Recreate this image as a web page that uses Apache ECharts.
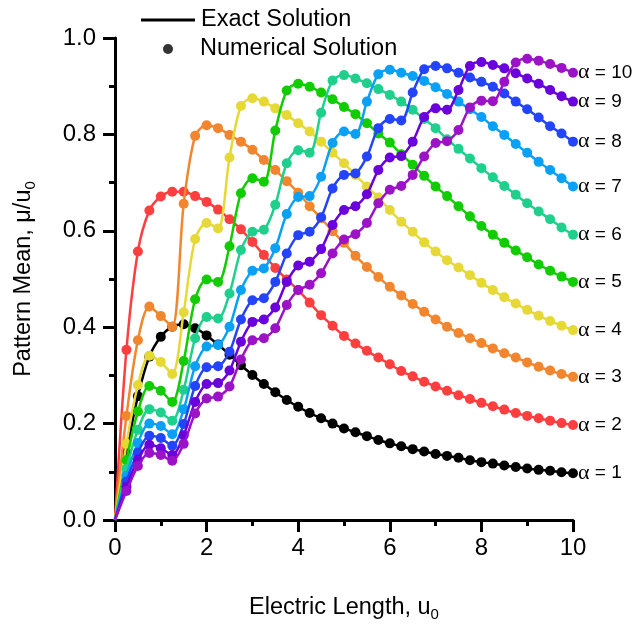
<!DOCTYPE html>
<html>
<head>
<meta charset="utf-8">
<script src="https://cdn.jsdelivr.net/npm/echarts@6/dist/echarts.min.js"></script>
<style>
html,body{margin:0;padding:0;background:#fff;}
#chart{width:636px;height:628px;}
</style>
</head>
<body>
<div id="chart"></div>
<script>
// Electric length u0 (x positions of the numerical points, every 0.25)
const uValues = [0,0.25,0.5,0.75,1,1.25,1.5,1.75,2,2.25,2.5,2.75,3,3.25,3.5,3.75,4,4.25,4.5,4.75,5,5.25,5.5,5.75,6,6.25,6.5,6.75,7,7.25,7.5,7.75,8,8.25,8.5,8.75,9,9.25,9.5,9.75,10];

// Pattern mean mu/u0 for each alpha
const alpha1 = [0,0.140,0.257,0.339,0.380,0.401,0.406,0.398,0.383,0.364,0.343,0.321,0.301,0.282,0.265,0.249,0.235,0.222,0.211,0.200,0.190,0.182,0.174,0.166,0.159,0.153,0.147,0.142,0.137,0.133,0.129,0.124,0.120,0.117,0.113,0.110,0.107,0.104,0.102,0.099,0.097];
const alpha2 = [0,0.353,0.557,0.642,0.671,0.681,0.681,0.672,0.660,0.644,0.624,0.603,0.577,0.550,0.523,0.499,0.477,0.451,0.425,0.403,0.382,0.366,0.351,0.337,0.323,0.309,0.298,0.287,0.277,0.268,0.259,0.251,0.243,0.236,0.229,0.222,0.216,0.211,0.206,0.201,0.197];
const alpha3 = [0,0.216,0.373,0.443,0.423,0.401,0.656,0.797,0.819,0.813,0.799,0.785,0.768,0.747,0.726,0.703,0.679,0.651,0.626,0.599,0.575,0.548,0.525,0.504,0.484,0.466,0.448,0.432,0.416,0.401,0.388,0.377,0.367,0.356,0.346,0.337,0.327,0.318,0.310,0.303,0.297];
const alpha4 = [0,0.158,0.280,0.341,0.328,0.303,0.431,0.583,0.616,0.605,0.752,0.859,0.875,0.868,0.854,0.840,0.823,0.806,0.785,0.762,0.740,0.716,0.692,0.669,0.643,0.619,0.598,0.576,0.557,0.539,0.524,0.508,0.492,0.477,0.462,0.449,0.436,0.424,0.413,0.403,0.394];
const alpha5 = [0,0.124,0.225,0.278,0.268,0.245,0.330,0.458,0.499,0.494,0.568,0.678,0.709,0.702,0.808,0.891,0.905,0.899,0.887,0.873,0.857,0.842,0.823,0.802,0.783,0.759,0.737,0.714,0.692,0.672,0.651,0.630,0.610,0.592,0.575,0.559,0.545,0.530,0.517,0.505,0.494];
const alpha6 = [0,0.106,0.187,0.230,0.223,0.206,0.270,0.377,0.421,0.418,0.470,0.560,0.598,0.602,0.654,0.740,0.767,0.762,0.845,0.912,0.923,0.916,0.906,0.894,0.882,0.868,0.851,0.832,0.813,0.790,0.770,0.750,0.730,0.711,0.693,0.675,0.657,0.640,0.624,0.607,0.592];
const alpha7 = [0,0.092,0.160,0.200,0.195,0.178,0.230,0.319,0.360,0.363,0.401,0.477,0.517,0.522,0.564,0.635,0.670,0.672,0.712,0.782,0.806,0.801,0.868,0.925,0.934,0.928,0.921,0.911,0.898,0.884,0.868,0.852,0.836,0.817,0.799,0.780,0.762,0.743,0.726,0.709,0.692];
const alpha8 = [0,0.080,0.140,0.175,0.170,0.154,0.199,0.278,0.317,0.319,0.349,0.416,0.456,0.460,0.494,0.553,0.591,0.598,0.628,0.688,0.716,0.719,0.754,0.813,0.832,0.829,0.887,0.935,0.942,0.937,0.928,0.918,0.909,0.899,0.885,0.868,0.852,0.835,0.817,0.802,0.785];
const alpha9 = [0,0.069,0.125,0.156,0.149,0.135,0.176,0.245,0.282,0.284,0.310,0.370,0.411,0.416,0.441,0.494,0.528,0.536,0.562,0.612,0.643,0.651,0.676,0.726,0.752,0.755,0.785,0.836,0.854,0.851,0.892,0.942,0.950,0.944,0.937,0.927,0.916,0.905,0.892,0.879,0.868];
const alpha10 = [0,0.060,0.112,0.139,0.135,0.123,0.158,0.221,0.252,0.256,0.277,0.333,0.373,0.377,0.398,0.446,0.477,0.488,0.512,0.553,0.582,0.593,0.616,0.657,0.685,0.693,0.716,0.754,0.782,0.786,0.809,0.856,0.870,0.869,0.909,0.949,0.957,0.953,0.946,0.938,0.928];

const curves = [alpha1,alpha2,alpha3,alpha4,alpha5,alpha6,alpha7,alpha8,alpha9,alpha10];
const alphaLabels = ['1','2','3','4','5','6','7','8','9','10'];
const curveColors = ['#000000','#ff3f3f','#f2862e','#e6d936','#11cc00','#1fd08c','#0aa0f6','#2444fb','#6a00dc','#9c12c6'];

const xTicks = [0,2,4,6,8,10];
const yTicks = [0,0.2,0.4,0.6,0.8,1.0];

const SANS = 'Liberation Sans, Arial, sans-serif';
const SERIF = 'Liberation Serif, Times New Roman, serif';

const chart = echarts.init(document.getElementById('chart'), null, {renderer:'canvas'});

const series = [];
curves.forEach((vals, k) => {
  series.push({
    type: 'line',
    name: 'α = ' + alphaLabels[k],
    xAxisIndex: 0,
    yAxisIndex: 0,
    data: uValues.map((u, i) => i === 0 ? {value:[u, vals[i]], symbol:'none'} : [u, vals[i]]),
    smooth: 0.3,
    symbol: 'circle',
    symbolSize: 10,
    showSymbol: true,
    showAllSymbol: true,
    color: curveColors[k],
    lineStyle: {width: 2.5, color: curveColors[k]},
    itemStyle: {color: curveColors[k]},
    emphasis: {disabled: true},
    silent: true,
    endLabel: {
      show: true,
      formatter: '{a|α} = ' + alphaLabels[k],
      color: '#000',
      fontSize: 19,
      fontFamily: SANS,
      distance: 5,
      rich: {a: {fontFamily: SERIF, fontSize: 22, color: '#000'}}
    },
    z: 2 + k
  });
});
series.push({name:'Exact Solution', type:'line', data:[], color:'#000', lineStyle:{color:'#000', width:2.5}, itemStyle:{color:'#000'}});
series.push({name:'Numerical Solution', type:'scatter', data:[], color:'#000', itemStyle:{color:'#000'}});

const nameStyle = {fontSize: 23.5, color: '#000', fontFamily: SANS, lineHeight: 28,
  rich: {sub: {fontSize: 15, lineHeight: 12, verticalAlign: 'bottom', color: '#000', fontFamily: SANS}}};

const option = {
  animation: false,
  backgroundColor: '#ffffff',
  grid: {left: 115, right: 63, top: 38, bottom: 108, containLabel: false},
  legend: [
    {data: ['Exact Solution'], left: 141, top: 8, padding: 0, icon: 'rect', itemWidth: 54, itemHeight: 3,
     selectedMode: false, textStyle: {fontSize: 23.5, color: '#000', fontFamily: SANS, padding:[0,0,0,1]}},
    {data: ['Numerical Solution'], left: 163, top: 37, padding: 0, icon: 'circle', itemWidth: 54, itemHeight: 10,
     selectedMode: false, textStyle: {fontSize: 23.5, color: '#000', fontFamily: SANS}}
  ],
  xAxis: [
    {
      type: 'value',
      min: xTicks[0], max: xTicks[xTicks.length-1], interval: xTicks[1]-xTicks[0],
      axisLine: {show: true, onZero: false, lineStyle: {color: '#000', width: 3}},
      axisTick: {show: true, inside: false, length: 12, lineStyle: {color: '#000', width: 3}},
      minorTick: {show: false},
      splitLine: {show: false},
      axisLabel: {fontSize: 24, color: '#000', fontFamily: SANS, margin: 16},
      name: 'Electric Length, u{sub|0}',
      nameLocation: 'middle',
      nameGap: 74,
      nameTextStyle: nameStyle
    },
    {
      // minor ticks of the x axis (every 1 unit), pointing outward
      type: 'value',
      gridIndex: 0,
      position: 'bottom',
      min: 0, max: 10, interval: 1,
      axisLine: {show: false, onZero: false},
      axisTick: {show: true, inside: false, length: 6, lineStyle: {color: '#000', width: 3}},
      axisLabel: {show: false},
      splitLine: {show: false}
    }
  ],
  yAxis: {
    type: 'value',
    min: yTicks[0], max: yTicks[yTicks.length-1], interval: yTicks[1]-yTicks[0],
    axisLine: {show: true, onZero: false, lineStyle: {color: '#000', width: 3}},
    axisTick: {show: true, inside: false, length: 12, lineStyle: {color: '#000', width: 3}},
    minorTick: {show: true, splitNumber: 2, length: 6, lineStyle: {color: '#000', width: 3}},
    splitLine: {show: false},
    minorSplitLine: {show: false},
    axisLabel: {fontSize: 24, color: '#000', fontFamily: SANS, margin: 19, formatter: v => v.toFixed(1)},
    name: 'Pattern Mean, μ/u{sub|0}',
    nameLocation: 'middle',
    nameGap: 77,
    nameTextStyle: nameStyle
  },
  series: series
};
chart.setOption(option);
</script>
</body>
</html>
